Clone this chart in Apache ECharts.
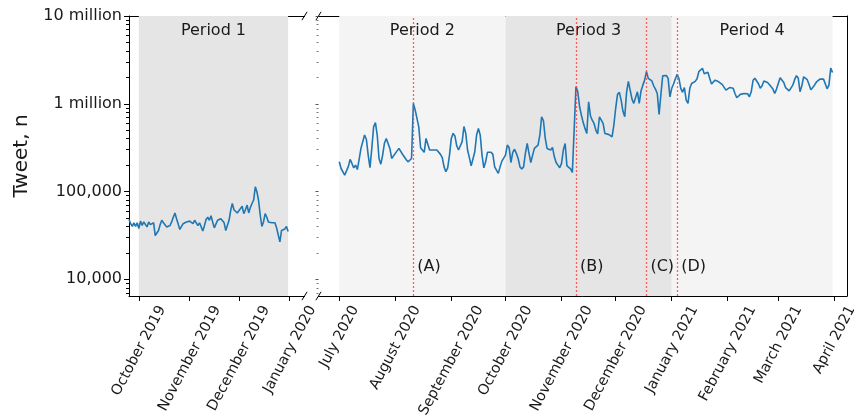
<!DOCTYPE html>
<html>
<head>
<meta charset="utf-8">
<script src="https://cdn.jsdelivr.net/npm/echarts@6/dist/echarts.min.js"></script>
<style>
html, body { margin: 0; padding: 0; background: #fff; }
#chart { width: 854px; height: 420px; }
</style>
</head>
<body>
<div id="chart"></div>
<script>
// Daily tweet counts before the gap (first day of the series, then one value per day)
const baselineStart = '2019-09-25';
const baselineValues = [
  48e3, 43e3, 40e3, 44e3, 40e3, 44e3, 38e3, 46e3, 41e3, 45e3,
  43e3, 39.5e3, 45e3, 42e3, 40e3, 44e3, 31.5e3, 31e3, 36e3, 42e3,
  47e3, 44e3, 45e3, 39.5e3, 39e3, 41e3, 45e3, 51e3, 57e3, 49e3,
  47e3, 37e3, 36e3, 43e3, 44e3, 45e3, 43e3, 46e3, 45e3, 43e3,
  47e3, 44e3, 41e3, 44e3, 43e3, 35.5e3, 41e3, 48e3, 51e3, 47e3,
  53e3, 45e3, 38.5e3, 37.5e3, 47e3, 48e3, 49e3, 48e3, 44e3, 36e3,
  35e3, 47e3, 61e3, 73e3, 62e3, 59e3, 57e3, 57e3, 64e3, 68e3,
  56e3, 62e3, 70e3, 57e3, 66e3, 73e3, 80e3, 113e3, 99e3, 79e3,
  54e3, 40e3, 45e3, 56e3, 51e3, 45e3, 43e3, 44e3, 43e3, 44e3,
  38.5e3, 32e3, 26.7e3, 36e3, 37e3, 37.5e3, 40e3, 35e3
];

// Daily tweet counts after the gap
const mainStart = '2020-07-01';
const mainValues = [
  218e3, 183e3, 175e3, 154e3, 158e3, 192e3, 232e3, 209e3, 186e3, 200e3,
  178e3, 232e3, 310e3, 318e3, 440e3, 392e3, 260e3, 187e3, 310e3, 545e3,
  610e3, 440e3, 238e3, 205e3, 260e3, 355e3, 402e3, 413e3, 310e3, 238e3,
  238e3, 272e3, 284e3, 310e3, 318e3, 266e3, 276e3, 232e3, 218e3, 218e3,
  238e3, 1010e3, 850e3, 811e3, 545e3, 315e3, 305e3, 280e3, 403e3, 385e3,
  297e3, 284e3, 297e3, 290e3, 297e3, 305e3, 265e3, 243e3, 191e3, 168e3,
  186e3, 260e3, 403e3, 460e3, 430e3, 332e3, 297e3, 297e3, 370e3, 550e3,
  460e3, 297e3, 243e3, 196e3, 191e3, 284e3, 440e3, 524e3, 440e3, 260e3,
  186e3, 218e3, 280e3, 280e3, 280e3, 265e3, 191e3, 175e3, 161e3, 191e3,
  222e3, 216e3, 260e3, 338e3, 318e3, 214e3, 279e3, 303e3, 272e3, 238e3,
  191e3, 181e3, 191e3, 272e3, 353e3, 272e3, 214e3, 260e3, 310e3, 297e3,
  338e3, 440e3, 711e3, 640e3, 403e3, 310e3, 303e3, 297e3, 318e3, 250e3,
  214e3, 200e3, 187e3, 209e3, 297e3, 353e3, 196e3, 187e3, 181e3, 165e3,
  160e3, 1570e3, 1370e3, 925e3, 743e3, 610e3, 524e3, 459e3, 1050e3, 730e3,
  650e3, 597e3, 501e3, 452e3, 711e3, 730e3, 597e3, 459e3, 440e3, 448e3,
  440e3, 421e3, 580e3, 900e3, 1280e3, 1350e3, 1100e3, 820e3, 711e3, 1350e3,
  1800e3, 1430e3, 1130e3, 1010e3, 966e3, 1370e3, 1010e3, 1400e3, 1630e3, 1860e3,
  2320e3, 1950e3, 1860e3, 1820e3, 1600e3, 1470e3, 1310e3, 757e3, 1280e3, 2080e3,
  2030e3, 2100e3, 1950e3, 1200e3, 1500e3, 1680e3, 1930e3, 2160e3, 1930e3, 1500e3,
  1350e3, 1530e3, 1100e3, 1010e3, 1500e3, 1700e3, 1760e3, 1800e3, 1930e3, 2320e3,
  2320e3, 2540e3, 2200e3, 2120e3, 2280e3, 1950e3, 1680e3, 1680e3, 1860e3, 1880e3,
  1780e3, 1700e3, 1650e3, 1600e3, 1430e3, 1410e3, 1530e3, 1600e3, 1500e3, 1310e3,
  1170e3, 1210e3, 1280e3, 1260e3, 1310e3, 1350e3, 1300e3, 1200e3, 1370e3, 1850e3,
  1950e3, 1910e3, 1690e3, 1500e3, 1600e3, 1820e3, 1880e3, 1750e3, 1660e3, 1560e3,
  1470e3, 1310e3, 1470e3, 1710e3, 1980e3, 2050e3, 1750e3, 1530e3, 1470e3, 1400e3,
  1420e3, 1630e3, 1880e3, 2090e3, 1970e3, 1370e3, 1600e3, 2030e3, 2050e3, 1880e3,
  1660e3, 1440e3, 1420e3, 1630e3, 1760e3, 1850e3, 1910e3, 1980e3, 1910e3, 1820e3,
  1480e3, 1630e3, 2550e3, 2270e3
];

// Study periods (shaded spans)
const periodNames  = ['Period 1', 'Period 2', 'Period 3', 'Period 4'];
const periodStarts = ['2019-10-01', '2020-07-01', '2020-10-01', '2021-01-01'];
const periodEnds   = ['2019-12-31', '2020-10-01', '2021-01-01', '2021-03-31'];

// Key events (dotted red markers)
const eventNames = ['(A)', '(B)', '(C)', '(D)'];
const eventDates = ['2020-08-11', '2020-11-09', '2020-12-18', '2021-01-04'];

// Axis ticks
const leftTickDates  = ['2019-10-01', '2019-11-01', '2019-12-01', '2020-01-01'];
const leftTickLabels = ['October 2019', 'November 2019', 'December 2019', 'January 2020'];
const rightTickDates = ['2020-07-01', '2020-08-01', '2020-09-01', '2020-10-01', '2020-11-01',
                        '2020-12-01', '2021-01-01', '2021-02-01', '2021-03-01', '2021-04-01'];
const rightTickLabels = ['July 2020', 'August 2020', 'September 2020', 'October 2020', 'November 2020',
                         'December 2020', 'January 2021', 'February 2021', 'March 2021', 'April 2021'];
const yTickValues = [1e4, 1e5, 1e6, 1e7];
const yTickLabels = ['10,000', '100,000', '1 million', '10 million'];

// ---- helpers ----
const toTime = s => { const [y, m, d] = s.split('-').map(Number); return new Date(y, m - 1, d).getTime(); };
const dailySeries = (start, values) => {
  const [y, m, d] = start.split('-').map(Number);
  return values.map((v, i) => [new Date(y, m - 1, d + i).getTime(), v]);
};
const DAY = 86400000;

// log-axis minor ticks at 2..9 x 10^n
const minorTicks = [];
for (let e = 3; e <= 6; e++) for (let k = 2; k <= 9; k++) minorTicks.push(k * Math.pow(10, e));

// ---- style / layout ----
const FONT = 'DejaVu Sans';
const INK = '#1a1a1a';
const LINE = '#1f77b4';
const SHADE_DARK = '#e5e5e5';
const SHADE_LIGHT = '#f4f4f4';
const EVENT_RED = '#ff3b3b';
const Y_MIN = 6450, Y_MAX = 1e7;
const EVENT_LABEL_LEVEL = 13700;
const gridA = { left: 129, top: 16, width: 175.5, height: 280 };
const gridB = { left: 318.5, top: 16, width: 528.5, height: 280 };
const LABEL_ROT = 62;
const LABEL_SIZE = 14.5;

const yLabelFor = v => {
  const i = yTickValues.findIndex(t => Math.abs(Math.log10(t) - Math.log10(v)) < 1e-6);
  return i >= 0 ? yTickLabels[i] : '';
};

function logAxis(gridIndex, extra) {
  return Object.assign({
    type: 'log', logBase: 10, gridIndex, min: Y_MIN, max: Y_MAX,
    splitLine: { show: false },
    axisLine: { show: false },
    axisTick: { show: false },
    axisLabel: { show: false }
  }, extra);
}

function timeAxis(gridIndex, min, max, position, ticks) {
  return {
    type: 'time', gridIndex, min, max, position,
    splitLine: { show: false },
    axisLine: { show: true, onZero: false, lineStyle: { color: '#000', width: 1 } },
    axisTick: ticks ? { show: true, length: 5, customValues: ticks, lineStyle: { color: '#000' } } : { show: false },
    axisLabel: { show: false }
  };
}

const chart = echarts.init(document.getElementById('chart'));

const mainAreas = [1, 2, 3].map(i => [
  { name: periodNames[i], xAxis: toTime(periodStarts[i]),
    itemStyle: { color: i % 2 === 0 ? SHADE_DARK : SHADE_LIGHT } },
  { xAxis: toTime(periodEnds[i]) }
]);

const areaLabel = { show: true, position: 'insideTop', distance: 7, fontFamily: FONT, fontSize: 16, color: INK };

chart.setOption({
  animation: false,
  backgroundColor: '#fff',
  grid: [gridA, gridB],
  xAxis: [
    timeAxis(0, toTime('2019-09-25'), toTime('2020-01-10'), 'bottom', leftTickDates.map(toTime)),
    timeAxis(0, toTime('2019-09-25'), toTime('2020-01-10'), 'top', null),
    timeAxis(1, toTime('2020-06-19') + DAY / 2, toTime('2021-04-08'), 'bottom', rightTickDates.map(toTime)),
    timeAxis(1, toTime('2020-06-19') + DAY / 2, toTime('2021-04-08'), 'top', null)
  ],
  yAxis: [
    logAxis(0, {
      position: 'left',
      axisLine: { show: true, lineStyle: { color: '#000', width: 1 } },
      axisTick: { show: true, length: 5, customValues: yTickValues, lineStyle: { color: '#000' } },
      axisLabel: { show: true, customValues: yTickValues, formatter: yLabelFor,
                   fontFamily: FONT, fontSize: 16, color: INK, margin: 7 },
      name: 'Tweet, n', nameLocation: 'middle', nameGap: 97,
      nameTextStyle: { fontFamily: FONT, fontSize: 20, color: INK }
    }),
    logAxis(0, {
      position: 'left',
      axisTick: { show: true, length: 3, customValues: minorTicks, lineStyle: { color: '#000' } }
    }),
    logAxis(1, {
      position: 'left',
      axisTick: { show: true, length: 3, customValues: yTickValues, lineStyle: { color: '#555' } }
    }),
    logAxis(1, {
      position: 'left',
      axisTick: { show: true, length: 2, customValues: minorTicks, lineStyle: { color: '#777' } }
    }),
    logAxis(1, {
      position: 'right',
      axisLine: { show: true, lineStyle: { color: '#000', width: 1 } }
    })
  ],
  series: [
    {
      type: 'line', xAxisIndex: 0, yAxisIndex: 0,
      data: dailySeries(baselineStart, baselineValues),
      showSymbol: false, symbol: 'none',
      lineStyle: { color: LINE, width: 1.6 },
      markArea: {
        silent: true,
        label: areaLabel,
        data: [[
          { name: periodNames[0], xAxis: toTime(periodStarts[0]), itemStyle: { color: SHADE_DARK } },
          { xAxis: toTime(periodEnds[0]) }
        ]]
      }
    },
    {
      type: 'line', xAxisIndex: 2, yAxisIndex: 2,
      data: dailySeries(mainStart, mainValues),
      showSymbol: false, symbol: 'none',
      lineStyle: { color: LINE, width: 1.6 },
      markArea: { silent: true, label: areaLabel, data: mainAreas },
      markLine: {
        silent: true, symbol: ['none', 'none'],
        label: { show: false },
        lineStyle: { color: EVENT_RED, opacity: 0.8, type: [2, 2], width: 1.3 },
        emphasis: { disabled: true },
        data: eventDates.map(d => ({ xAxis: toTime(d) }))
      },
      markPoint: {
        silent: true, symbol: 'circle', symbolSize: 0,
        itemStyle: { color: 'rgba(0,0,0,0)' },
        label: { show: true, position: 'right', distance: 4, formatter: p => p.name,
                 fontFamily: FONT, fontSize: 16, color: INK },
        data: eventDates.map((d, i) => ({ name: eventNames[i], coord: [toTime(d), EVENT_LABEL_LEVEL] }))
      }
    }
  ]
});

// Rotated month labels, each centred under its tick; broken-axis marks
const labelFont = LABEL_SIZE + 'px "' + FONT + '"';
const measure = document.createElement('canvas').getContext('2d');
measure.font = labelFont;
const rad = LABEL_ROT * Math.PI / 180;
const axisBottom = gridA.top + gridA.height;
const labelTop = axisBottom + 7;
const textH = LABEL_SIZE * 1.15;

const graphics = [];
function addTickLabels(axisIndex, dates, labels) {
  dates.forEach((d, i) => {
    const px = chart.convertToPixel({ xAxisIndex: axisIndex }, toTime(d));
    const L = measure.measureText(labels[i]).width;
    const H = L * Math.sin(rad) + textH * Math.cos(rad);
    graphics.push({
      type: 'text', x: px, y: labelTop + H / 2, rotation: rad, silent: true,
      style: { text: labels[i], font: labelFont, fill: INK,
               align: 'center', verticalAlign: 'middle', textAlign: 'center', textVerticalAlign: 'middle' }
    });
  });
}
addTickLabels(0, leftTickDates, leftTickLabels);
addTickLabels(2, rightTickDates, rightTickLabels);

const breakXs = [gridA.left + gridA.width, gridB.left];
const breakYs = [gridA.top, axisBottom];
breakXs.forEach(bx => breakYs.forEach(by => {
  graphics.push({
    type: 'line', silent: true,
    shape: { x1: bx - 2.6, y1: by + 4.2, x2: bx + 2.6, y2: by - 4.2 },
    style: { stroke: '#000', lineWidth: 1 }
  });
}));

chart.setOption({ graphic: graphics });
</script>
</body>
</html>
